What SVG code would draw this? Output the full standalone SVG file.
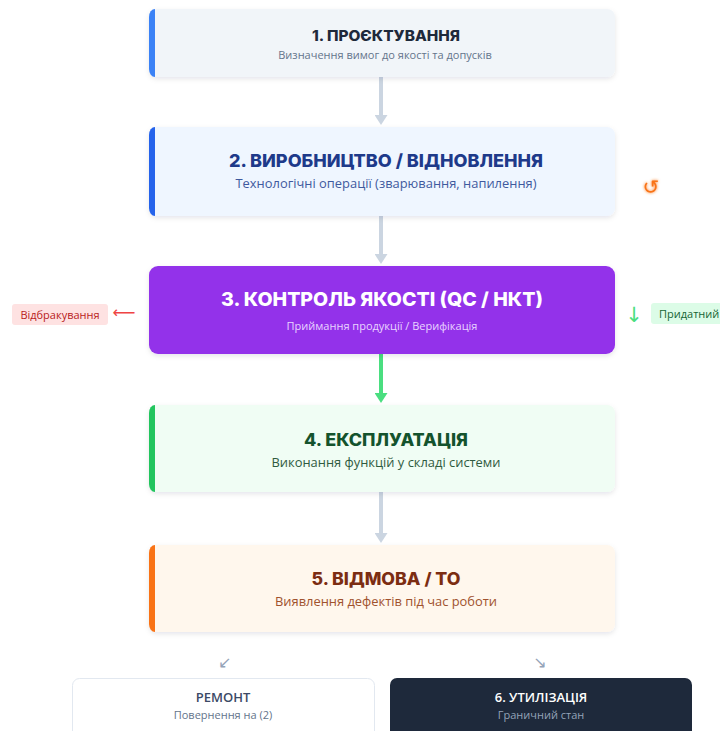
<svg xmlns="http://www.w3.org/2000/svg" width="720" height="731" viewBox="0 0 720 731">
<defs>
<filter id="sh" x="-10%" y="-20%" width="120%" height="150%">
<feDropShadow dx="0" dy="2" stdDeviation="2.5" flood-color="#0f172a" flood-opacity="0.10"/>
</filter>
<filter id="glow" x="-50%" y="-50%" width="200%" height="200%">
<feGaussianBlur stdDeviation="1.5" result="b"/>
<feMerge><feMergeNode in="b"/><feMergeNode in="SourceGraphic"/></feMerge>
</filter>
<marker id="ah" viewBox="0 0 10 13" refX="2" refY="6.5" markerWidth="10" markerHeight="13" markerUnits="userSpaceOnUse" orient="auto">
<path d="M0,0 L10,6.5 L0,13 Z" fill="#cbd5e1"/>
</marker>
<marker id="ahg" viewBox="0 0 10 13" refX="2" refY="6.5" markerWidth="10" markerHeight="13" markerUnits="userSpaceOnUse" orient="auto">
<path d="M0,0 L10,6.5 L0,13 Z" fill="#4ade80"/>
</marker>
</defs>
<style>
.t{font-family:Inter,"Noto Sans","DejaVu Sans",sans-serif;font-weight:800;text-anchor:middle}
.s{font-family:"Open Sans","Noto Sans",sans-serif;font-size:12.8px;text-anchor:middle}
.ln{stroke:#cbd5e1;stroke-width:4;fill:none}
.lab{font-family:"Open Sans","Noto Sans",sans-serif;font-size:11px}
.sym{font-family:"DejaVu Sans",sans-serif;text-anchor:middle}
</style>
<rect width="720" height="731" fill="#ffffff"/>

<g id="connectors">
<line class="ln" x1="381" y1="77" x2="381" y2="117" marker-end="url(#ah)"/>
<line class="ln" x1="381" y1="216" x2="381" y2="256" marker-end="url(#ah)"/>
<line x1="381" y1="354" x2="381" y2="395" stroke="#4ade80" stroke-width="4" marker-end="url(#ahg)"/>
<line class="ln" x1="381" y1="492" x2="381" y2="535" marker-end="url(#ah)"/>
<text class="sym" x="225" y="668" font-size="16" fill="#94a3b8">↙</text>
<text class="sym" x="540" y="668" font-size="16" fill="#94a3b8">↘</text>
</g>

<g id="n1">
<rect x="149" y="9" width="466" height="68" rx="8" fill="#f1f5f9" filter="url(#sh)"/>
<path d="M155,9 A6 8 0 0 0 149,17 V69 A6 8 0 0 0 155,77 Z" fill="#3b82f6"/>
<text class="t" x="386" y="41" font-size="14" fill="#1e293b" textLength="148" lengthAdjust="spacingAndGlyphs">1. ПРОЄКТУВАННЯ</text>
<text class="s" x="385" y="59" fill="#64748b" style="font-size:11px">Визначення вимог до якості та допусків</text>
</g>

<g id="n2">
<rect x="149" y="127" width="466" height="89" rx="8" fill="#eff6ff" filter="url(#sh)"/>
<path d="M155,127 A6 8 0 0 0 149,135 V208 A6 8 0 0 0 155,216 Z" fill="#2563eb"/>
<text class="t" x="386" y="167" font-size="18" fill="#1e3a8a" textLength="314" lengthAdjust="spacingAndGlyphs">2. ВИРОБНИЦТВО / ВІДНОВЛЕННЯ</text>
<text class="s" x="386" y="188" fill="#3f5a9e" textLength="301" lengthAdjust="spacingAndGlyphs">Технологічні операції (зварювання, напилення)</text>
</g>

<g id="n3">
<rect x="149" y="266" width="466" height="88" rx="9" fill="#9333ea" filter="url(#sh)"/>
<text class="t" x="382" y="306" font-size="19" fill="#ffffff" textLength="322" lengthAdjust="spacingAndGlyphs">3. КОНТРОЛЬ ЯКОСТІ (QC / НКТ)</text>
<text class="s" x="382" y="330" style="font-size:11px" fill="#e9d5ff">Приймання продукції / Верифікація</text>
</g>

<g id="n4">
<rect x="149" y="405" width="466" height="87" rx="8" fill="#f0fdf4" filter="url(#sh)"/>
<path d="M155,405 A6 8 0 0 0 149,413 V484 A6 8 0 0 0 155,492 Z" fill="#22c55e"/>
<text class="t" x="386" y="446" font-size="17" fill="#14532d" textLength="164" lengthAdjust="spacingAndGlyphs">4. ЕКСПЛУАТАЦІЯ</text>
<text class="s" x="386" y="467" fill="#2f5b3f" textLength="229" lengthAdjust="spacingAndGlyphs">Виконання функцій у складі системи</text>
</g>

<g id="n5">
<rect x="149" y="545" width="466" height="87" rx="8" fill="#fff7ed" filter="url(#sh)"/>
<path d="M155,545 A6 8 0 0 0 149,553 V624 A6 8 0 0 0 155,632 Z" fill="#f97316"/>
<text class="t" x="386" y="585" font-size="17" fill="#7c2d12" textLength="149" lengthAdjust="spacingAndGlyphs">5. ВІДМОВА / ТО</text>
<text class="s" x="386" y="606" fill="#a0522d" textLength="222" lengthAdjust="spacingAndGlyphs">Виявлення дефектів під час роботи</text>
</g>

<g id="loop">
<text x="651" y="194" font-family="'Noto Sans','DejaVu Sans',sans-serif" font-size="20" fill="#f97316" text-anchor="middle" filter="url(#glow)">↺</text>
</g>

<g id="reject">
<rect x="12" y="304" width="96" height="21" rx="3" fill="#fee2e2"/>
<text class="lab" x="60" y="318.5" fill="#b91c1c" text-anchor="middle">Відбракування</text>
<text class="sym" x="124" y="318" font-size="16" fill="#ef4444">⟵</text>
</g>

<g id="pass">
<text class="sym" x="634" y="322" font-size="21" fill="#4ade80">↓</text>
<rect x="651" y="303" width="80" height="21" rx="3" fill="#dcfce7"/>
<text class="lab" x="659" y="318" fill="#166534">Придатний</text>
</g>

<g id="repair">
<rect x="72.5" y="678.5" width="302" height="70" rx="7" fill="#ffffff" stroke="#e2e8f0"/>
<text x="223" y="702" font-family="'Open Sans','Noto Sans',sans-serif" font-size="13" font-weight="600" fill="#3c4a66" text-anchor="middle">РЕМОНТ</text>
<text x="223" y="719" font-family="'Open Sans','Noto Sans',sans-serif" font-size="11" fill="#64748b" text-anchor="middle">Повернення на (2)</text>
</g>

<g id="n6">
<rect x="390" y="678" width="302" height="70" rx="7" fill="#1e293b"/>
<text x="541" y="702" font-family="'Open Sans','Noto Sans',sans-serif" font-size="13" font-weight="600" fill="#ffffff" text-anchor="middle">6. УТИЛІЗАЦІЯ</text>
<text x="541" y="719" font-family="'Open Sans','Noto Sans',sans-serif" font-size="11" fill="#94a3b8" text-anchor="middle">Граничний стан</text>
</g>
</svg>
